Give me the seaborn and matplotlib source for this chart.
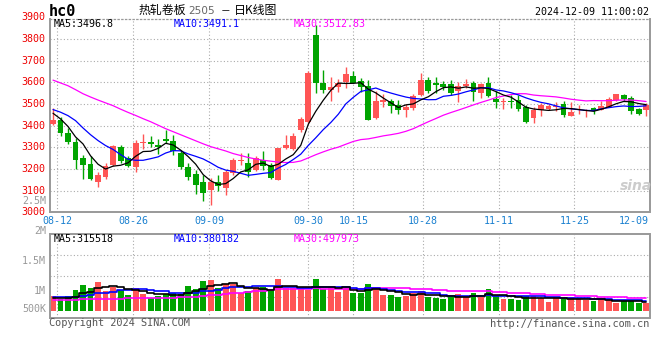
import numpy as np
import pandas as pd
import matplotlib
matplotlib.use("Agg")
import matplotlib.pyplot as plt
import seaborn as sns

# hc0 daily candles, 08-09 .. 12-09
opens = [3408, 3428, 3367, 3325, 3252, 3222, 3141, 3165, 3218, 3300,
         3249, 3207, 3318, 3325, 3310, 3339, 3330, 3275, 3210, 3176,
         3138, 3102, 3138, 3110, 3180, 3238, 3228, 3195, 3240, 3220,
         3150, 3297, 3290, 3380, 3415, 3817, 3598, 3565, 3578, 3600,
         3627, 3605, 3585, 3433, 3510, 3512, 3495, 3472, 3480, 3540,
         3610, 3598, 3592, 3590, 3562, 3585, 3598, 3552, 3597, 3522,
         3507, 3514, 3520, 3485, 3436, 3470, 3477, 3485, 3502, 3446,
         3470, 3468, 3480, 3472, 3488, 3518, 3541, 3528, 3477, 3470]
highs = [3482, 3438, 3390, 3345, 3265, 3258, 3185, 3226, 3312, 3312,
         3262, 3335, 3362, 3350, 3338, 3378, 3358, 3288, 3228, 3195,
         3170, 3160, 3172, 3195, 3250, 3272, 3275, 3260, 3282, 3228,
         3298, 3358, 3366, 3440, 3650, 3865, 3658, 3625, 3615, 3672,
         3650, 3618, 3610, 3560, 3545, 3525, 3518, 3500, 3545, 3642,
         3625, 3623, 3605, 3612, 3600, 3615, 3605, 3597, 3625, 3558,
         3528, 3540, 3540, 3495, 3485, 3503, 3498, 3508, 3512, 3508,
         3497, 3477, 3485, 3512, 3534, 3548, 3545, 3535, 3480, 3503]
lows = [3405, 3352, 3315, 3198, 3155, 3150, 3115, 3155, 3215, 3226,
        3208, 3188, 3293, 3300, 3268, 3318, 3266, 3198, 3148, 3085,
        3050, 3032, 3100, 3080, 3172, 3220, 3165, 3190, 3196, 3155,
        3148, 3292, 3286, 3372, 3410, 3550, 3550, 3515, 3555, 3572,
        3595, 3555, 3425, 3430, 3485, 3460, 3455, 3442, 3470, 3535,
        3550, 3552, 3565, 3540, 3510, 3572, 3515, 3528, 3530, 3482,
        3478, 3480, 3468, 3412, 3410, 3446, 3470, 3469, 3440, 3445,
        3454, 3442, 3455, 3470, 3485, 3515, 3515, 3454, 3448, 3446]
closes = [3428, 3367, 3326, 3240, 3216, 3155, 3172, 3215, 3307, 3236,
          3212, 3322, 3325, 3314, 3300, 3331, 3283, 3207, 3165, 3125,
          3090, 3140, 3122, 3185, 3242, 3242, 3188, 3250, 3215, 3160,
          3295, 3310, 3350, 3430, 3645, 3595, 3566, 3577, 3598, 3637,
          3598, 3580, 3427, 3512, 3518, 3490, 3470, 3488, 3535, 3612,
          3562, 3587, 3580, 3552, 3582, 3592, 3557, 3590, 3535, 3510,
          3514, 3507, 3478, 3415, 3470, 3496, 3492, 3492, 3447, 3465,
          3476, 3470, 3473, 3492, 3523, 3546, 3523, 3466, 3452, 3496]
volumes = [587, 453, 587, 827, 1027, 920, 1160, 787, 960, 827,
           627, 920, 667, 520, 587, 653, 720, 653, 987, 867,
           1200, 1227, 920, 1080, 1053, 720, 800, 920, 933, 867,
           1267, 920, 920, 867, 827, 1267, 867, 920, 760, 893,
           720, 720, 1067, 947, 627, 627, 560, 587, 693, 787,
           560, 520, 467, 533, 667, 533, 720, 533, 867, 587,
           467, 467, 427, 587, 587, 520, 360, 493, 493, 560,
           453, 427, 400, 453, 427, 320, 400, 387, 320, 293]  # thousand lots

# moving-average values before enough history is visible
ma5_head = [3457, 3431, 3396, 3348]
ma10_head = [3474, 3462, 3446, 3423, 3389, 3358, 3331, 3308, 3290]
ma30_head = [3610, 3597, 3584, 3566, 3547, 3532, 3518, 3505, 3492, 3476,
             3461, 3447, 3432, 3418, 3402, 3386, 3372, 3358, 3344, 3330,
             3316, 3303, 3293, 3283, 3271, 3262, 3253, 3246, 3240]
vol_ma5_head = [493, 493, 507, 560]
vol_ma10_head = [533, 533, 560, 560, 587, 627, 693, 693, 747]
vol_ma30_head = [427, 427, 427, 427, 453, 453, 453, 453, 453, 453,
                 493, 493, 493, 493, 493, 493, 520, 533, 547, 560,
                 587, 613, 640, 667, 693, 720, 747, 773, 800]

date_labels = ['08-12', '08-26', '09-09', '09-30', '10-15', '10-28', '11-11', '11-25']
price_levels = [3000, 3100, 3200, 3300, 3400, 3500, 3600, 3700, 3800, 3900]
vol_labels = ['2.5M', '2M', '1.5M', '1M', '500K']

RED = '#ff5555'
GREEN = '#00a400'
GRID = '#aaaaaa'
FRAME = '#999999'

sns.set_theme(style='white')
plt.rcParams['font.family'] = ['DejaVu Sans Mono']

df = pd.DataFrame({'open': opens, 'high': highs, 'low': lows,
                   'close': closes, 'volume': np.array(volumes) * 1000.0})
df['idx'] = np.arange(len(df))
df['dir'] = np.where(df['close'] >= df['open'], 'up', 'down')


def moving_avg(s, n, head):
    m = s.rolling(n).mean()
    m.iloc[:n - 1] = head
    return m


df['ma5'] = moving_avg(df['close'], 5, ma5_head)
df['ma10'] = moving_avg(df['close'], 10, ma10_head)
df['ma30'] = moving_avg(df['close'], 30, ma30_head)
df['vma5'] = moving_avg(df['volume'], 5, np.array(vol_ma5_head) * 1000.0)
df['vma10'] = moving_avg(df['volume'], 10, np.array(vol_ma10_head) * 1000.0)
df['vma30'] = moving_avg(df['volume'], 30, np.array(vol_ma30_head) * 1000.0)

W, H = 660, 360
fig = plt.figure(figsize=(W / 100, H / 100), dpi=100)
fig.patch.set_facecolor('white')


def box(l, t, r, b):
    return [l / W, 1 - b / H, (r - l) / W, (b - t) / H]


ax = fig.add_axes(box(50, 19, 649.5, 212.3))
axv = fig.add_axes(box(50, 234, 649.5, 318.3))

# date gridline positions in candle units (Sina puts them slightly off-centre)
date_pos = [0.57, 10.69, 20.81, 33.99, 40.0, 49.22, 59.38, 69.46]

# ---- price panel
for p in price_levels[1:-1]:
    ax.axhline(p, color=GRID, ls=(0, (1, 2)), lw=0.8, zorder=0)
for x in date_pos:
    ax.axvline(x, color=GRID, ls=(0, (1, 2)), lw=0.8, zorder=0)

colors = np.where(df['dir'] == 'up', RED, GREEN)
ax.vlines(df['idx'], df['low'], df['high'], colors=colors, lw=1.0, zorder=2)
body_low = np.minimum(df['open'], df['close'])
body_h = np.maximum((df['close'] - df['open']).abs(), 3)
ax.bar(df['idx'], body_h, bottom=body_low, width=0.78, color=colors,
       linewidth=0, zorder=3)

sns.lineplot(data=df, x='idx', y='ma30', ax=ax, color='#ff00ff', lw=0.9, zorder=4)
sns.lineplot(data=df, x='idx', y='ma10', ax=ax, color='#0000ff', lw=0.9, zorder=4)
sns.lineplot(data=df, x='idx', y='ma5', ax=ax, color='black', lw=0.9, zorder=5)

ax.set_xlim(-0.4, 79.45)
ax.set_ylim(3000, 3892)

# ---- volume panel
for k in (0.25, 0.5, 0.75):
    axv.axhline(-304e3 + k * (3.07e6 + 304e3), color=GRID, ls=(0, (1, 2)), lw=0.8, zorder=0)
for x in date_pos:
    axv.axvline(x, color=GRID, ls=(0, (1, 2)), lw=0.8, zorder=0)

sns.barplot(data=df, x='idx', y='volume', hue='dir', palette={'up': RED, 'down': GREEN},
            native_scale=True, width=0.78, dodge=False, legend=False, saturation=1,
            errorbar=None, linewidth=0, ax=axv, zorder=2)
sns.lineplot(data=df, x='idx', y='vma30', ax=axv, color='#ff00ff', lw=1.2,
             drawstyle='steps-mid', zorder=4)
sns.lineplot(data=df, x='idx', y='vma10', ax=axv, color='#0000ff', lw=1.2,
             drawstyle='steps-mid', zorder=4)
sns.lineplot(data=df, x='idx', y='vma5', ax=axv, color='black', lw=1.2,
             drawstyle='steps-mid', zorder=5)
axv.set_xlim(-0.4, 79.45)
axv.set_ylim(-304e3, 3.07e6)

for a in (ax, axv):
    a.set_xticks([])
    a.set_yticks([])
    a.set_xlabel('')
    a.set_ylabel('')
    a.grid(False)
    for s in a.spines.values():
        s.set_color(FRAME)
        s.set_linewidth(1.4)
        s.set_visible(True)
ax.spines['top'].set_linestyle((0, (1, 2)))
ax.spines['top'].set_linewidth(0.9)

# ---- labels
for p in price_levels:
    ax.text(-0.007, p, str(p), transform=ax.get_yaxis_transform(), ha='right',
            va='center', color='#ee0000', fontsize=7.2, clip_on=False)
for x, lab in zip(date_pos, date_labels):
    ax.text(x, -0.045, lab, transform=ax.get_xaxis_transform(), ha='center',
            va='center', color='#1a80d0', fontsize=7.2, clip_on=False)
fig.text(649 / W, 1 - 220.5 / H, '12-09', ha='right', va='center', color='#1a80d0', fontsize=7.2)

for lab, y in zip(vol_labels, [200.7, 230.7, 260.7, 290.7, 309.5]):
    fig.text(46 / W, 1 - y / H, lab, ha='right', va='center', color='#999999', fontsize=7.2)


def ftext(x, y, s, **kw):
    fig.text(x / W, 1 - y / H, s, va='center', **kw)


CJK = ['Noto Sans CJK SC', 'DejaVu Sans']
ftext(54, 24, 'MA5:3496.8', color='black', fontsize=7.2)
ftext(174, 24, 'MA10:3491.1', color='#0000ff', fontsize=7.2)
ftext(294, 24, 'MA30:3512.83', color='#ff00ff', fontsize=7.2)
ftext(54, 238.5, 'MA5:315518', color='black', fontsize=7.2)
ftext(174, 238.5, 'MA10:380182', color='#0000ff', fontsize=7.2)
ftext(294, 238.5, 'MA30:497973', color='#ff00ff', fontsize=7.2)

ftext(49, 11, 'hc0', color='black', fontsize=11, fontweight='bold')
ftext(139, 10.5, '热轧卷板', color='black', fontsize=8.6, family=CJK)
ftext(188, 11, '2505', color='#666666', fontsize=7.6, family=['DejaVu Sans'])
ftext(221, 10.5, '－', color='black', fontsize=7.0, family=CJK)
ftext(234, 10.5, '日K线图', color='black', fontsize=8.6, family=CJK)
fig.text(649 / W, 1 - 12 / H, '2024-12-09 11:00:02', ha='right', va='center',
         color='black', fontsize=7.2)

ftext(49, 323.5, 'Copyright 2024 SINA.COM', color='#555555', fontsize=7.4)
fig.text(649 / W, 1 - 324 / H, 'http://finance.sina.com.cn', ha='right', va='center',
         color='#555555', fontsize=7.4)
ftext(620, 186, 'sina', color='#cccccc', fontsize=10, fontweight='bold',
      style='italic', family=['DejaVu Sans'])

fig.savefig('out.png', dpi=100, facecolor='white')
